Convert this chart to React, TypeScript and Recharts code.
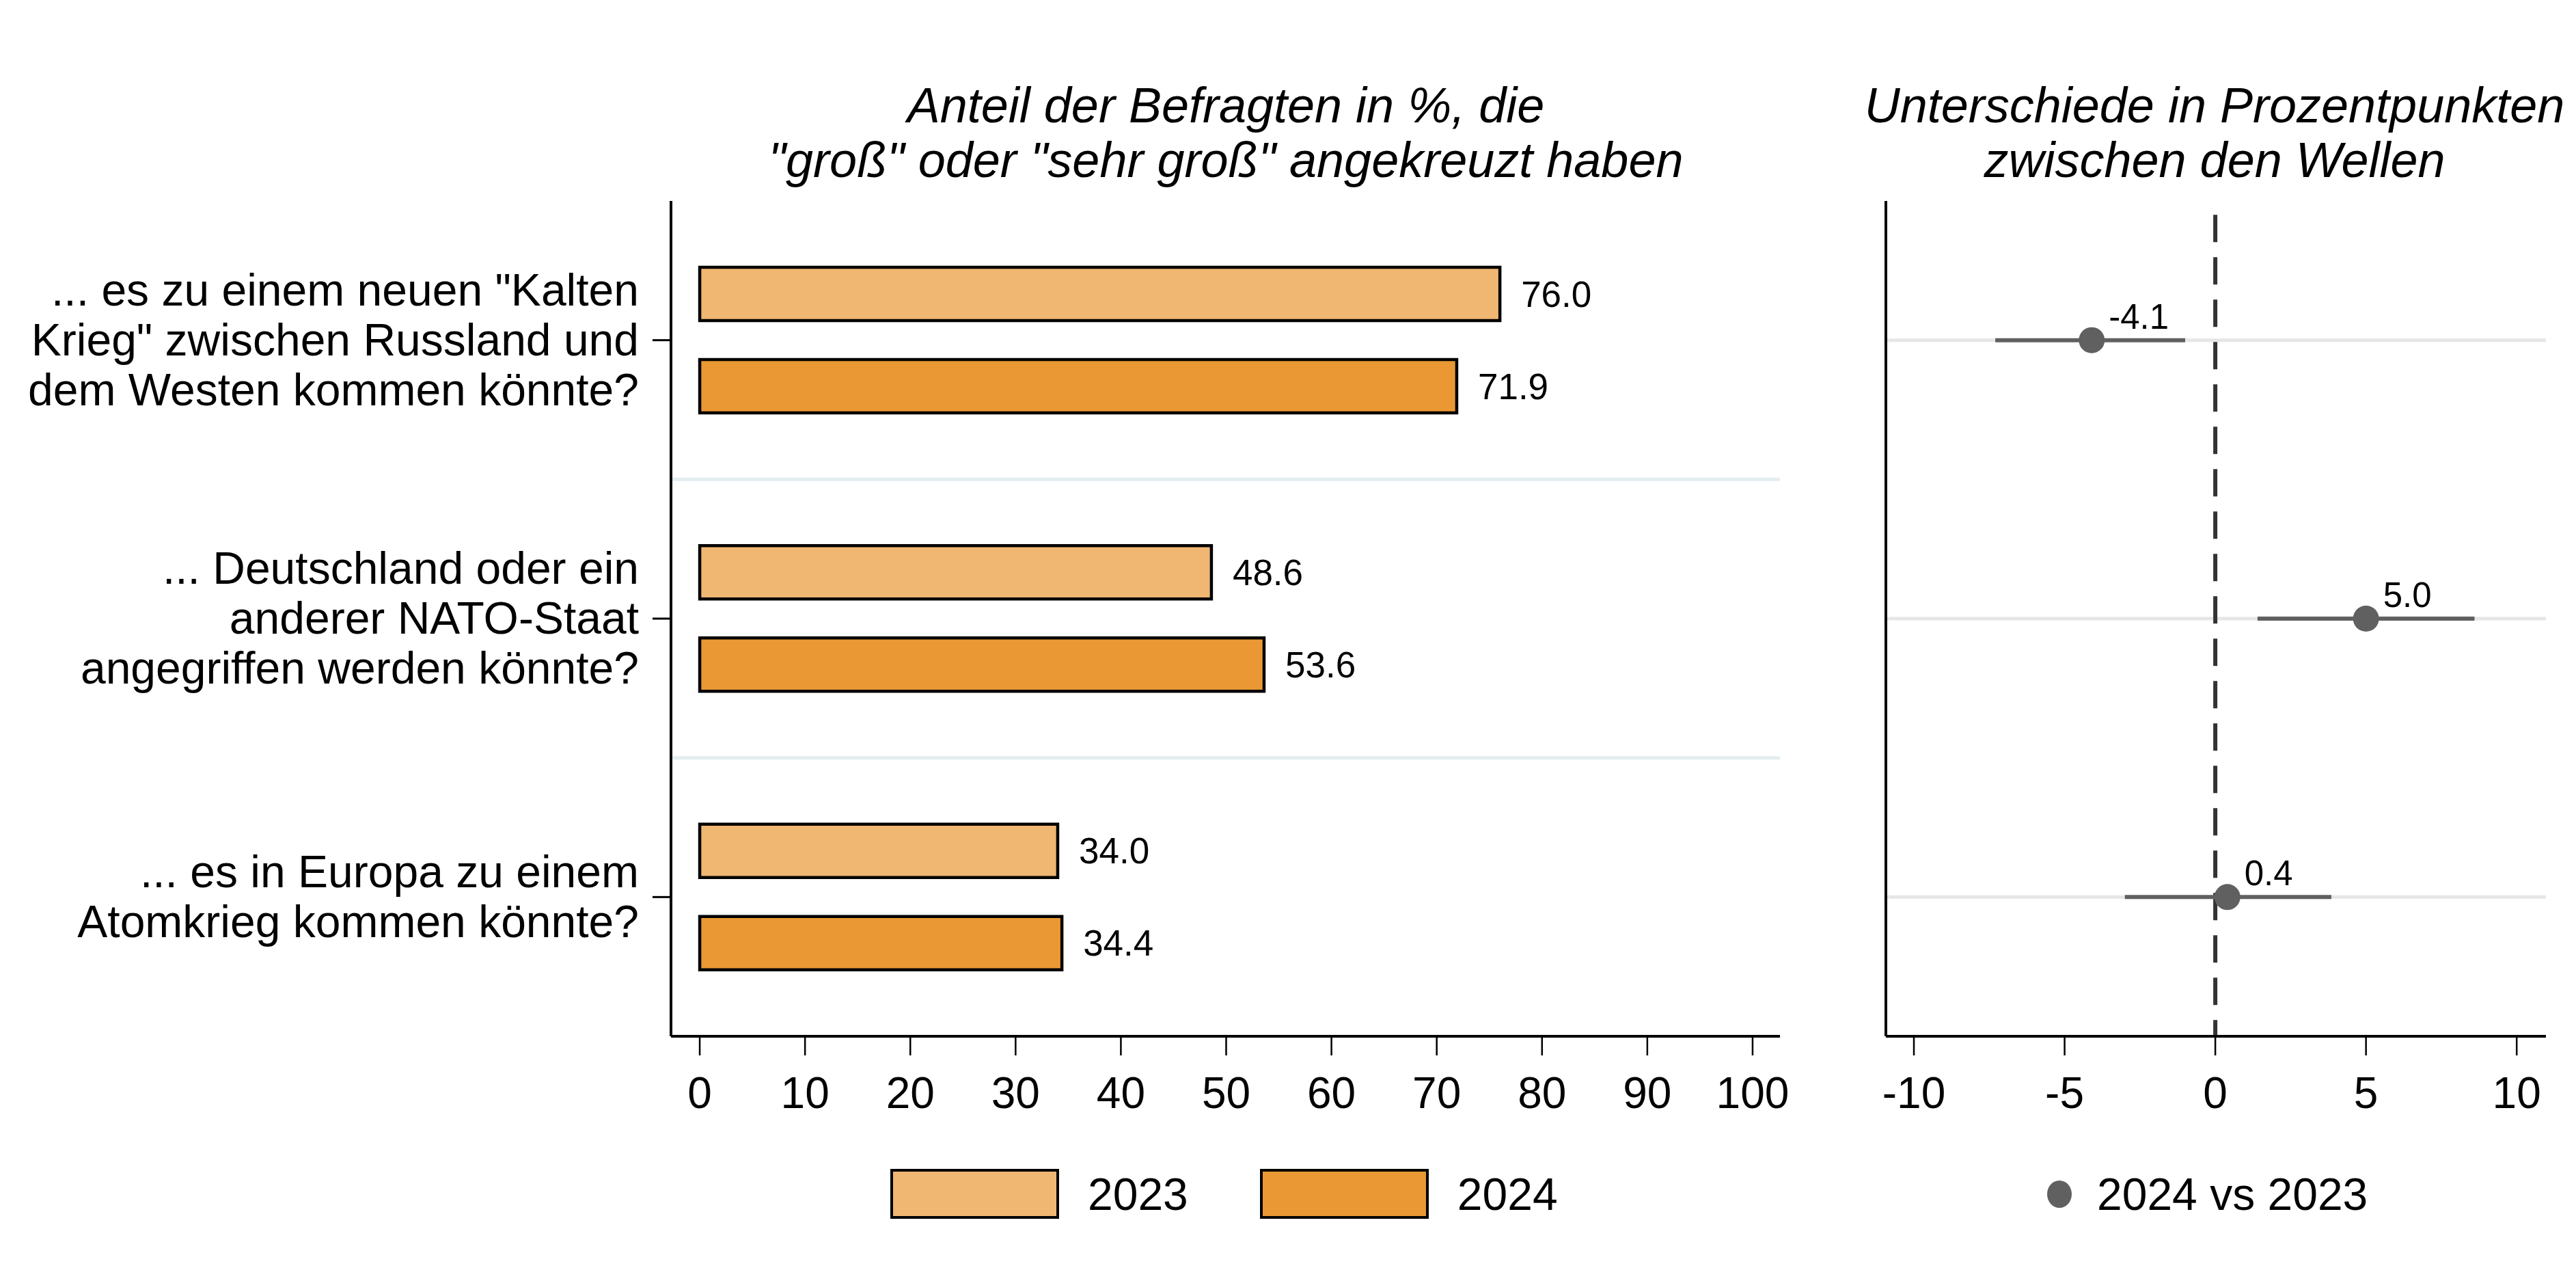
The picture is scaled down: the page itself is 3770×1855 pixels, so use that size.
import React from "react";
import {
  BarChart,
  Bar,
  XAxis,
  YAxis,
  CartesianGrid,
  LabelList,
  ScatterChart,
  Scatter,
  ErrorBar,
  ReferenceLine,
} from "recharts";

const FONT = '"Liberation Sans", Arial, Helvetica, sans-serif';

// question labels, one entry per line as printed
const categoryLines = [
  ['... es zu einem neuen "Kalten', 'Krieg" zwischen Russland und', "dem Westen kommen könnte?"],
  ["... Deutschland oder ein", "anderer NATO-Staat", "angegriffen werden könnte?"],
  ["... es in Europa zu einem", "Atomkrieg kommen könnte?"],
];
const categories = categoryLines.map((l) => l.join(" "));

const years = ["2023", "2024"];
const yearColors = ["#F0B773", "#EA9833"];
const values2023 = [76.0, 48.6, 34.0];
const values2024 = [71.9, 53.6, 34.4];

const diffLabel = "2024 vs 2023";
const diffValues = [-4.1, 5.0, 0.4];
const ciLow = [-7.3, 1.4, -3.0];
const ciHigh = [-1.0, 8.6, 3.85];

const shareTicks = [0, 10, 20, 30, 40, 50, 60, 70, 80, 90, 100];
const diffTicks = [-10, -5, 0, 5, 10];

const leftTitle = ["Anteil der Befragten in %, die", '"groß" oder "sehr groß" angekreuzt haben'];
const rightTitle = ["Unterschiede in Prozentpunkten", "zwischen den Wellen"];

const barData = categories.map((cat, i) => ({
  cat,
  v2023: values2023[i],
  v2024: values2024[i],
}));

const diffData = categories.map((cat, i) => ({
  cat,
  row: i + 1,
  diff: diffValues[i],
  ci: [diffValues[i] - ciLow[i], ciHigh[i] - diffValues[i]],
}));

function CategoryTick({ x, y, payload }: any) {
  const idx = categories.indexOf(payload.value);
  const lines = idx >= 0 ? categoryLines[idx] : [String(payload.value)];
  const lh = 73;
  return (
    <text x={x} y={y} textAnchor="end" fontSize={66} fill="#000" fontFamily={FONT}>
      {lines.map((line, i) => (
        <tspan key={i} x={x} y={y + (i - (lines.length - 1) / 2) * lh + 22}>
          {line}
        </tspan>
      ))}
    </text>
  );
}

function DiffPoint(props: any) {
  const { cx, cy, payload } = props;
  return (
    <g>
      <circle cx={cx} cy={cy} r={19} fill="#606060" />
      <text x={cx + 25} y={cy - 17} fontSize={51} fill="#000" fontFamily={FONT}>
        {payload.diff.toFixed(1)}
      </text>
    </g>
  );
}

// light separators between the question groups
const separatorLines = ({ offset }: any) =>
  categories.slice(1).map((_, i) => offset.top + (offset.height * (i + 1)) / categories.length);

const titleStyle: React.CSSProperties = {
  position: "absolute",
  textAlign: "center",
  fontStyle: "italic",
  fontSize: 72,
  lineHeight: "80px",
  whiteSpace: "nowrap",
  color: "#000",
};

export default function App() {
  return (
    <div
      style={{
        position: "absolute",
        left: 0,
        top: 0,
        width: 3770,
        height: 1855,
        background: "#fff",
        overflow: "hidden",
        fontFamily: FONT,
      }}
    >
      <div style={{ ...titleStyle, left: 1794 - 900, width: 1800, top: 114 }}>
        {leftTitle.map((t) => (
          <div key={t}>{t}</div>
        ))}
      </div>
      <div style={{ ...titleStyle, left: 3241 - 600, width: 1200, top: 114 }}>
        {rightTitle.map((t) => (
          <div key={t}>{t}</div>
        ))}
      </div>

      <div style={{ position: "absolute", left: 0, top: 0 }}>
        <BarChart
          width={2640}
          height={1680}
          data={barData}
          layout="vertical"
          margin={{ top: 294, right: 35, left: 0, bottom: 0 }}
          barSize={78}
          barGap={57}
          style={{ fontFamily: FONT }}
        >
          <CartesianGrid
            vertical={false}
            stroke="#E4EDF0"
            strokeWidth={5}
            horizontalCoordinatesGenerator={separatorLines}
          />
          <XAxis
            type="number"
            domain={[-2.73, 102.6]}
            ticks={shareTicks}
            allowDataOverflow
            height={164}
            tickSize={28}
            tickMargin={32}
            axisLine={{ stroke: "#000", strokeWidth: 4 }}
            tickLine={{ stroke: "#000", strokeWidth: 2.5 }}
            tick={{ fill: "#000", fontSize: 64 }}
          />
          <YAxis
            type="category"
            dataKey="cat"
            width={982}
            tickSize={27}
            tickMargin={20}
            axisLine={{ stroke: "#000", strokeWidth: 4 }}
            tickLine={{ stroke: "#000", strokeWidth: 3 }}
            tick={<CategoryTick />}
            interval={0}
          />
          <Bar dataKey="v2023" name={years[0]} fill={yearColors[0]} stroke="#000" strokeWidth={4.5} isAnimationActive={false}>
            <LabelList
              dataKey="v2023"
              position="right"
              offset={31}
              formatter={(v: any) => Number(v).toFixed(1)}
              fontSize={53}
              fill="#000"
            />
          </Bar>
          <Bar dataKey="v2024" name={years[1]} fill={yearColors[1]} stroke="#000" strokeWidth={4.5} isAnimationActive={false}>
            <LabelList
              dataKey="v2024"
              position="right"
              offset={31}
              formatter={(v: any) => Number(v).toFixed(1)}
              fontSize={53}
              fill="#000"
            />
          </Bar>
        </BarChart>
      </div>

      <div style={{ position: "absolute", left: 2700, top: 0 }}>
        <ScatterChart
          width={1070}
          height={1680}
          margin={{ top: 294, right: 44, left: 0, bottom: 0 }}
          style={{ fontFamily: FONT }}
        >
          <XAxis
            type="number"
            dataKey="diff"
            domain={[-10.93, 10.97]}
            ticks={diffTicks}
            allowDataOverflow
            height={164}
            tickSize={28}
            tickMargin={32}
            axisLine={{ stroke: "#000", strokeWidth: 4 }}
            tickLine={{ stroke: "#000", strokeWidth: 2.5 }}
            tick={{ fill: "#000", fontSize: 64 }}
          />
          <YAxis
            type="number"
            dataKey="row"
            domain={[0.5, 3.5]}
            ticks={[1, 2, 3]}
            reversed
            width={60}
            tick={false}
            tickLine={false}
            axisLine={{ stroke: "#000", strokeWidth: 4 }}
          />
          {diffData.map((d) => (
            <ReferenceLine key={d.row} y={d.row} stroke="#E6E6E6" strokeWidth={5} />
          ))}
          <ReferenceLine
            segment={[
              { x: 0, y: 0.55 },
              { x: 0, y: 3.5 },
            ]}
            stroke="#333"
            strokeWidth={6}
            strokeDasharray="40 22"
          />
          <Scatter data={diffData} name={diffLabel} fill="#606060" shape={<DiffPoint />} isAnimationActive={false}>
            <ErrorBar dataKey="ci" direction="x" width={0} stroke="#606060" strokeWidth={6} />
          </Scatter>
        </ScatterChart>
      </div>

      {/* legend, left panel */}
      <div
        style={{
          position: "absolute",
          left: 1303,
          top: 1710,
          height: 73,
          display: "flex",
          alignItems: "center",
          fontSize: 66,
        }}
      >
        {years.map((y, i) => (
          <div key={y} style={{ display: "flex", alignItems: "center", marginRight: i === 0 ? 105 : 0 }}>
            <div
              style={{
                width: 247,
                height: 73,
                boxSizing: "border-box",
                border: "4px solid #000",
                background: yearColors[i],
                marginRight: 42,
              }}
            />
            <span>{y}</span>
          </div>
        ))}
      </div>

      {/* legend, right panel */}
      <div
        style={{
          position: "absolute",
          left: 2996,
          top: 1710,
          height: 73,
          display: "flex",
          alignItems: "center",
          fontSize: 66,
        }}
      >
        <div style={{ width: 36, height: 40, borderRadius: "50%", background: "#606060", marginRight: 37 }} />
        <span>{diffLabel}</span>
      </div>
    </div>
  );
}
